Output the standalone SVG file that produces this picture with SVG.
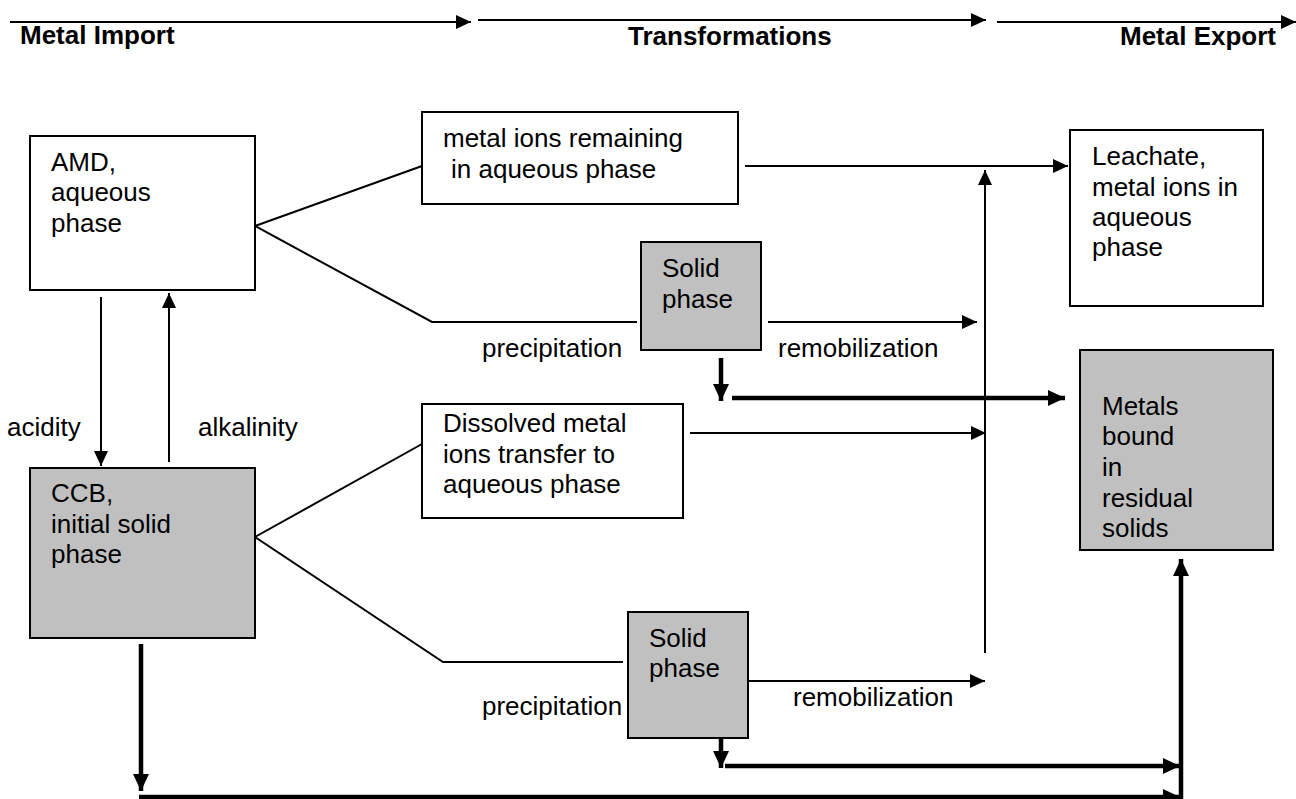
<svg xmlns="http://www.w3.org/2000/svg" width="1296" height="799" viewBox="0 0 1296 799">
<defs>
<style>
.box{fill:#ffffff;stroke:#000;stroke-width:2}
.gbox{fill:#c0c0c0;stroke:#000;stroke-width:2}
.t{font-family:"Liberation Sans",Arial,sans-serif;font-size:26px;fill:#000}
.h{font-family:"Liberation Sans",Arial,sans-serif;font-size:26px;font-weight:bold;fill:#000}
.thin{stroke:#000;stroke-width:2;fill:none}
.thick{stroke:#000;stroke-width:4.5;fill:none}
</style>
<marker id="a" markerUnits="userSpaceOnUse" markerWidth="15" markerHeight="14" refX="15" refY="7" orient="auto">
<path d="M0,0 L15,7 L0,14 z" fill="#000"/>
</marker>
<marker id="b" markerUnits="userSpaceOnUse" markerWidth="17" markerHeight="16" refX="17" refY="8" orient="auto">
<path d="M0,0 L17,8 L0,16 z" fill="#000"/>
</marker>
</defs>
<rect width="1296" height="799" fill="#fff"/>

<g id="headers">
<text class="h" x="20" y="44">Metal Import</text>
<text class="h" x="628" y="45">Transformations</text>
<text class="h" x="1120" y="45">Metal Export</text>
</g>

<g id="connectors">
<!-- top arrows -->
<line class="thin" x1="10" y1="22" x2="471" y2="22" marker-end="url(#a)"/>
<line class="thin" x1="478" y1="20" x2="986" y2="20" marker-end="url(#a)"/>
<line class="thin" x1="997" y1="22" x2="1296" y2="22" marker-end="url(#a)"/>
<!-- AMD branches -->
<polyline class="thin" points="422,166 255,226 432,322 637,322"/>
<!-- CCB branches -->
<polyline class="thin" points="422,444 255,537 443,662 623,662"/>
<!-- acidity / alkalinity -->
<line class="thin" x1="101" y1="297" x2="101" y2="466" marker-end="url(#a)"/>
<line class="thin" x1="169" y1="462" x2="169" y2="293" marker-end="url(#a)"/>
<!-- metal ions -> leachate -->
<line class="thin" x1="745" y1="166" x2="1068" y2="166" marker-end="url(#a)"/>
<!-- vertical collector -->
<line class="thin" x1="985" y1="653" x2="985" y2="170" marker-end="url(#a)"/>
<!-- remobilization 1 -->
<line class="thin" x1="768" y1="322" x2="977" y2="322" marker-end="url(#a)"/>
<!-- dissolved -> collector -->
<line class="thin" x1="690" y1="433" x2="986" y2="433" marker-end="url(#a)"/>
<!-- remobilization 2 -->
<line class="thin" x1="745" y1="681" x2="985" y2="681" marker-end="url(#a)"/>
<!-- solid 1 thick -->
<line class="thick" x1="721" y1="358" x2="721" y2="401" marker-end="url(#b)"/>
<line class="thick" x1="732" y1="398" x2="1065" y2="398" marker-end="url(#b)"/>
<!-- solid 2 thick -->
<line class="thick" x1="721" y1="728" x2="721" y2="768" marker-end="url(#b)"/>
<line class="thick" x1="725" y1="766" x2="1180" y2="766" marker-end="url(#b)"/>
<!-- CCB thick down and bottom -->
<line class="thick" x1="141" y1="644" x2="141" y2="791" marker-end="url(#b)"/>
<line class="thick" x1="139" y1="797" x2="1180" y2="797" marker-end="url(#b)"/>
<line class="thick" x1="1181" y1="799" x2="1181" y2="559" marker-end="url(#b)"/>
</g>

<g id="labels">
<text class="t" x="7" y="436">acidity</text>
<text class="t" x="198" y="436">alkalinity</text>
<text class="t" x="482" y="357">precipitation</text>
<text class="t" x="778" y="357">remobilization</text>
<text class="t" x="482" y="715">precipitation</text>
<text class="t" x="793" y="706">remobilization</text>
</g>

<g id="amd">
<rect class="box" x="30" y="136" width="225" height="154"/>
<text class="t" x="51" y="171">AMD,</text>
<text class="t" x="51" y="201">aqueous</text>
<text class="t" x="51" y="232">phase</text>
</g>

<g id="ccb">
<rect class="gbox" x="30" y="468" width="225" height="170"/>
<text class="t" x="51" y="502">CCB,</text>
<text class="t" x="51" y="533">initial solid</text>
<text class="t" x="51" y="563">phase</text>
</g>

<g id="ions-remaining">
<rect class="box" x="422" y="112" width="316" height="92"/>
<text class="t" x="443" y="147">metal ions remaining</text>
<text class="t" x="451" y="178">in aqueous phase</text>
</g>

<g id="solid1">
<rect class="gbox" x="641" y="242" width="120" height="108"/>
<text class="t" x="662" y="277">Solid</text>
<text class="t" x="662" y="308">phase</text>
</g>

<g id="dissolved">
<rect class="box" x="422" y="404" width="261" height="114"/>
<text class="t" x="443" y="432">Dissolved metal</text>
<text class="t" x="443" y="463">ions transfer to</text>
<text class="t" x="443" y="493">aqueous phase</text>
</g>

<g id="solid2">
<rect class="gbox" x="628" y="612" width="120" height="126"/>
<text class="t" x="649" y="647">Solid</text>
<text class="t" x="649" y="677">phase</text>
</g>

<g id="leachate">
<rect class="box" x="1070" y="130" width="193" height="176"/>
<text class="t" x="1092" y="165">Leachate,</text>
<text class="t" x="1092" y="196">metal ions in</text>
<text class="t" x="1092" y="226">aqueous</text>
<text class="t" x="1092" y="256">phase</text>
</g>

<g id="residual">
<rect class="gbox" x="1080" y="350" width="193" height="200"/>
<text class="t" x="1102" y="415">Metals</text>
<text class="t" x="1102" y="445">bound</text>
<text class="t" x="1102" y="476">in</text>
<text class="t" x="1102" y="507">residual</text>
<text class="t" x="1102" y="537">solids</text>
</g>
</svg>
